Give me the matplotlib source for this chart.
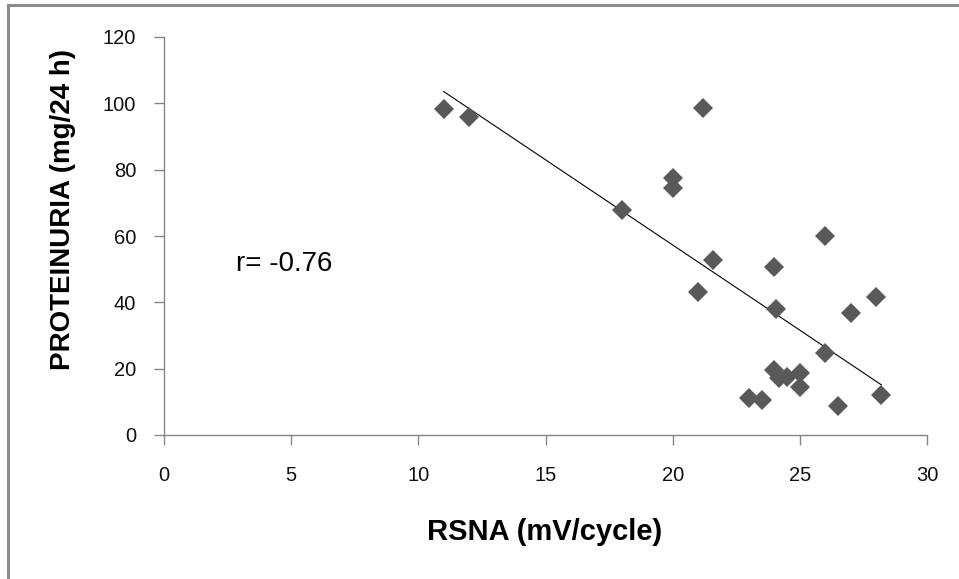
import numpy as np
import matplotlib
matplotlib.use("Agg")
import matplotlib.pyplot as plt
from matplotlib.lines import Line2D

plt.rcParams['font.family'] = ['Liberation Sans', 'DejaVu Sans']

# ===== datos =====
rsna = [11, 12, 18, 20, 20, 21.2, 21.6, 21, 24, 26, 28, 27, 24.05,
        26, 24, 24.2, 24.5, 25, 25, 23, 23.5, 26.5, 28.2]
proteinuria = [98.2, 95.8, 67.7, 77.4, 74.4, 98.7, 52.8, 43.2, 50.7, 60.1, 41.7, 36.7, 38.0,
               24.6, 19.6, 17.1, 17.6, 18.6, 14.6, 11.1, 10.6, 8.8, 12.1]
x_ticks = [0, 5, 10, 15, 20, 25, 30]
y_ticks = [0, 20, 40, 60, 80, 100, 120]
r_label = "r= -0.76"

AXIS_GRAY = '#868686'

fig = plt.figure(figsize=(9.59, 5.79), dpi=100)
ax = fig.add_axes([164 / 959, 1 - 435 / 579, (927 - 164) / 959, (435 - 37) / 579])

# puntos
ax.plot(rsna, proteinuria, linestyle='none', marker='D', markersize=10.5,
        color='#595959', markeredgewidth=0, zorder=3, clip_on=False)

# línea de tendencia (ajuste lineal, rango de los datos)
xs = np.array(rsna)
slope, intercept = np.polyfit(xs, np.array(proteinuria), 1)
xl = np.array([xs.min(), xs.max()])
ax.plot(xl, slope * xl + intercept, color='black', linewidth=0.8, zorder=2)

ax.text(2.85, 51.5, r_label, fontsize=20, va='center', ha='left')

ax.set_xlim(0, 30)
ax.set_ylim(0, 120)
ax.set_xticks(x_ticks)
ax.set_yticks(y_ticks)
ax.tick_params(axis='both', direction='out', length=7, width=1, color=AXIS_GRAY,
               labelsize=14.5, labelcolor='#111111')
ax.tick_params(axis='x', pad=15)
ax.tick_params(axis='y', pad=13)

for side in ['top', 'right']:
    ax.spines[side].set_visible(False)
for side in ['left', 'bottom']:
    ax.spines[side].set_color(AXIS_GRAY)
    ax.spines[side].set_linewidth(1)

fig.text(545 / 959, 1 - 532 / 579, "RSNA (mV/cycle)", fontsize=21, fontweight='bold',
         ha='center', va='center')
fig.text(63 / 959, 1 - 209 / 579, "PROTEINURIA (mg/24 h)", fontsize=20, fontweight='bold',
         ha='center', va='center', rotation=90)

# marco gris (solo izquierda y arriba visibles en la imagen)
fig.add_artist(Line2D([8 / 959, 8 / 959], [0, 1 - 5 / 579], color='#8c8c8c', linewidth=2.2,
                      transform=fig.transFigure))
fig.add_artist(Line2D([8 / 959, 1], [1 - 5 / 579, 1 - 5 / 579], color='#8c8c8c', linewidth=2.2,
                      transform=fig.transFigure))

fig.savefig('out.png', dpi=100)
